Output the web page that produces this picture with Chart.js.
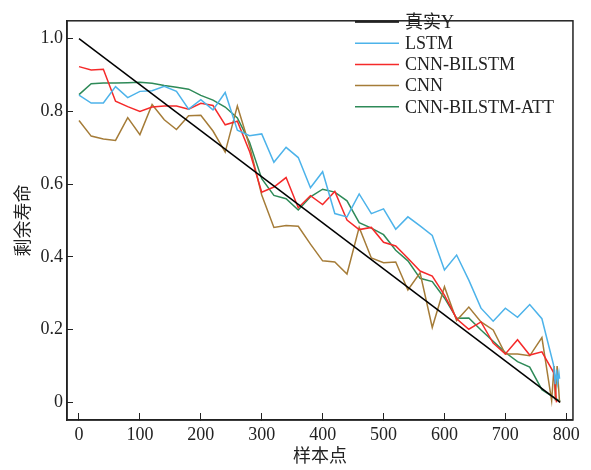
<!DOCTYPE html>
<html>
<head>
<meta charset="utf-8">
<script src="https://cdn.jsdelivr.net/npm/chart.js@4.4.1/dist/chart.umd.min.js"></script>
<style>
  html, body { margin: 0; padding: 0; background: #fff; }
</style>
</head>
<body>
<canvas id="c" width="591" height="470"></canvas>
<script>
// Sample positions and model outputs
const xTicks = [0, 100, 200, 300, 400, 500, 600, 700, 800];
const yTicks = [0, 0.2, 0.4, 0.6, 0.8, 1.0];

const trueX = [0, 790];
const trueY = [1.0, 0.0];

const lstmX = [0, 20, 40, 60, 80, 100, 120, 140, 160, 180, 200, 220, 240, 260, 280, 300, 320, 340, 360, 380,
  400, 420, 440, 460, 480, 500, 520, 540, 560, 580, 600, 620, 640, 660, 680, 700, 720, 740, 760, 779,
  782, 784, 786, 788, 789];
const lstmY = [0.845, 0.823, 0.823, 0.868, 0.838, 0.855, 0.857, 0.869, 0.855, 0.806, 0.832, 0.804, 0.852, 0.748, 0.733, 0.738, 0.660, 0.701, 0.673, 0.590,
  0.634, 0.519, 0.510, 0.573, 0.519, 0.532, 0.476, 0.510, 0.485, 0.459, 0.364, 0.405, 0.336, 0.259, 0.223, 0.259, 0.234, 0.269, 0.230, 0.104,
  0.050, 0.090, 0.055, 0.080, 0.065];

const cbX = [0, 20, 40, 60, 80, 100, 120, 140, 160, 180, 200, 220, 240, 260, 280, 300, 320, 340, 360, 380,
  400, 420, 440, 460, 480, 500, 520, 540, 560, 580, 600, 620, 640, 660, 680, 700, 720, 740, 760, 780,
  784];
const cbY = [0.923, 0.914, 0.916, 0.828, 0.813, 0.800, 0.812, 0.815, 0.815, 0.806, 0.822, 0.816, 0.763, 0.773, 0.690, 0.578, 0.592, 0.618, 0.535, 0.568,
  0.544, 0.580, 0.501, 0.475, 0.481, 0.440, 0.430, 0.396, 0.361, 0.347, 0.295, 0.230, 0.201, 0.221, 0.163, 0.133, 0.172, 0.130, 0.139, 0.080,
  0.0];

const cnnX = [0, 20, 40, 60, 80, 100, 120, 140, 160, 180, 200, 220, 240, 260, 280, 300, 320, 340, 360, 380,
  400, 420, 440, 460, 480, 500, 520, 540, 560, 580, 600, 620, 640, 660, 680, 700, 720, 740, 760, 776,
  780, 782, 785, 789];
const cnnY = [0.775, 0.732, 0.724, 0.720, 0.783, 0.736, 0.819, 0.777, 0.750, 0.788, 0.789, 0.746, 0.688, 0.815, 0.705, 0.570, 0.481, 0.486, 0.484, 0.435,
  0.389, 0.386, 0.353, 0.481, 0.397, 0.384, 0.386, 0.309, 0.356, 0.206, 0.318, 0.225, 0.262, 0.221, 0.199, 0.133, 0.133, 0.128, 0.178, 0.005,
  0.100, 0.005, 0.100, 0.0];

const attX = [0, 20, 40, 60, 80, 100, 120, 140, 160, 180, 200, 220, 240, 260, 280, 300, 320, 340, 360, 380,
  400, 420, 440, 460, 480, 500, 520, 540, 560, 580, 600, 620, 640, 660, 680, 700, 720, 740, 760, 780,
  790];
const attY = [0.846, 0.876, 0.878, 0.878, 0.879, 0.880, 0.877, 0.871, 0.866, 0.861, 0.844, 0.831, 0.812, 0.782, 0.715, 0.615, 0.569, 0.560, 0.529, 0.565,
  0.586, 0.578, 0.554, 0.494, 0.479, 0.461, 0.418, 0.389, 0.341, 0.332, 0.287, 0.231, 0.232, 0.199, 0.168, 0.137, 0.112, 0.097, 0.035, 0.013,
  0.003];

const seriesNames = ['真实Y', 'LSTM', 'CNN-BILSTM', 'CNN', 'CNN-BILSTM-ATT'];
const seriesColors = ['#000000', '#4db3ea', '#f52a2a', '#a57c38', '#2e8a58'];

const serif = '"Liberation Serif", "Noto Sans CJK SC", serif';
const cjk = '"Noto Sans CJK SC", sans-serif';

function pts(xs, ys) {
    return xs.map((x, i) => ({ x: x, y: ys[i] }));
}

// box round the plot area
const framePlugin = {
    id: 'frame',
    afterDraw(chart) {
        const a = chart.chartArea, ctx = chart.ctx;
        ctx.save();
        ctx.strokeStyle = '#222';
        ctx.lineWidth = 1.5;
        ctx.strokeRect(a.left, a.top, a.right - a.left, a.bottom - a.top);
        ctx.restore();
    }
};

// legend inside the top right corner, one entry per row
const legendPlugin = {
    id: 'innerLegend',
    afterDraw(chart) {
        const ctx = chart.ctx;
        ctx.save();
        ctx.font = '18px ' + serif;
        ctx.textBaseline = 'middle';
        ctx.fillStyle = '#222';
        chart.data.datasets.forEach((ds, i) => {
            const y = 22 + i * 21.2;
            ctx.strokeStyle = ds.borderColor;
            ctx.lineWidth = 1.5;
            ctx.beginPath();
            ctx.moveTo(355, y);
            ctx.lineTo(399, y);
            ctx.stroke();
            ctx.fillText(ds.label, 405, y + 1);
        });
        ctx.restore();
    }
};

const allX = [trueX, lstmX, cbX, cnnX, attX];
const allY = [trueY, lstmY, cbY, cnnY, attY];

new Chart(document.getElementById('c'), {
    type: 'line',
    data: {
        datasets: seriesNames.map((name, i) => ({
            label: name,
            data: pts(allX[i], allY[i]),
            borderColor: seriesColors[i],
            backgroundColor: 'transparent',
            borderWidth: 1.5,
            pointRadius: 0,
            fill: false,
            tension: 0
        }))
    },
    options: {
        responsive: false,
        animation: false,
        layout: { padding: { left: 0, top: 6, right: 18, bottom: 0 } },
        plugins: {
            legend: { display: false },
            tooltip: { enabled: false }
        },
        scales: {
            x: {
                type: 'linear',
                min: -19.7,
                max: 811,
                afterBuildTicks: (s) => { s.ticks = xTicks.map(v => ({ value: v })); },
                afterFit: (s) => { s.height = 50; },
                grid: { drawOnChartArea: false, tickLength: -7, color: '#222', lineWidth: 1 },
                border: { color: '#222', width: 1.5 },
                ticks: { padding: 11, color: '#222', font: { family: serif, size: 18 }, maxRotation: 0 },
                title: { display: true, text: '样本点', color: '#222', font: { family: cjk, size: 18 }, padding: { top: 0, bottom: 4 } }
            },
            y: {
                min: -0.0485,
                max: 1.049,
                afterBuildTicks: (s) => { s.ticks = yTicks.map(v => ({ value: v })); },
                afterFit: (s) => { s.width = 67; },
                grid: { drawOnChartArea: false, tickLength: -6, color: '#222', lineWidth: 1 },
                border: { color: '#222', width: 1.5 },
                ticks: {
                    padding: 10, color: '#222', font: { family: serif, size: 18 },
                    callback: (v) => v === 0 ? '0' : v.toFixed(1)
                },
                title: { display: true, text: '剩余寿命', color: '#222', font: { family: cjk, size: 18 }, padding: { top: 11, bottom: 0 } }
            }
        }
    },
    plugins: [framePlugin, legendPlugin]
});
</script>
</body>
</html>
